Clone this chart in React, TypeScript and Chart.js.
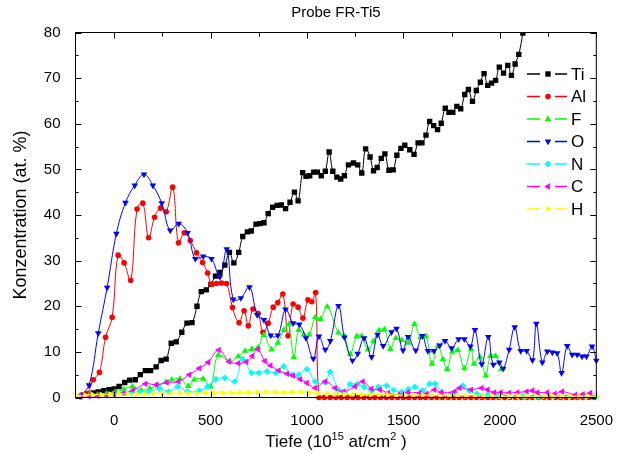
import React, { useEffect, useRef } from "react";
import { Chart, registerables } from "chart.js";
Chart.register(...registerables);

const FONT = '"Liberation Sans", Arial, Helvetica, sans-serif';

const titleText = "Probe FR-Ti5";
const yTitle = "Konzentration (at. %)";
const xTitleParts: [string, boolean][] = [["Tiefe (10", false], ["15", true], [" at/cm", false], ["2", true], [" )", false]];

const xTicks = [0, 500, 1000, 1500, 2000, 2500];
const yTicks = [0, 10, 20, 30, 40, 50, 60, 70, 80];

const tiX = [-165,-139,-108,-82,-53,-26,0,26,55,81,110,136,162,189,218,244,270,296,322,351,378,404,430,452,478,502,526,549,574,598,621,646,667,691,711,736,757,777,799,822,845,867,889,912,935,954,978,995,1014,1035,1054,1074,1095,1115,1134,1155,1175,1194,1215,1241,1263,1284,1304,1327,1345,1364,1385,1404,1425,1447,1466,1487,1507,1533,1555,1576,1596,1617,1636,1657,1677,1696,1717,1736,1756,1777,1797,1818,1837,1858,1878,1899,1918,1937,1957,1978,1997,2019,2041,2060,2079,2098,2119,2140];
const tiY = [0.5,0.7,1.0,1.2,1.5,1.7,1.9,2.4,3.3,3.8,3.9,5.0,5.9,5.9,6.7,8.1,8.4,11.9,12.2,14.3,16.3,16.4,20.0,23.2,23.6,24.8,26.6,27.4,29.0,31.8,29.5,31.8,35.3,36.3,36.5,38.0,38.1,38.3,40.3,41.7,42.1,42.2,41.4,42.8,45.0,43.1,49.3,48.5,48.6,49.4,49.4,48.6,49.6,53.8,49.6,48.3,47.9,48.6,51.0,51.4,51.0,49.2,54.5,52.7,49.7,50.4,52.4,53.4,49.8,49.9,53.1,54.6,55.3,54.3,53.3,55.8,55.8,57.5,60.5,59.6,58.7,60.1,63.4,62.5,62.5,63.8,63.3,66.4,67.5,64.9,67.3,69.1,71.0,68.4,68.9,69.5,72.4,71.1,72.8,70.6,73.1,75.2,79.9,86];

const alX = [-175,-140,-108,-76,-44,-10,21,52,86,119,149,179,210,241,270,304,334,364,395,428,459,485,505,530,557,583,614,648,674,696,720,747,772,799,825,849,875,902,928,954,979,1005,1025,1045,
  1062,1090,1120,1150,1178,1208,1238,1265,1295,1325,1352,1382,1412,1440,1470,1500,1528,1558,1588,1615,1645,1675,1702,1732,1762,1790,1820,1850,1878,1908,1938,1965,1995,2025,2052,2082,2112,2140,2170,2200,2228,2258,2288,2315,2345,2375,2402,2432,2462,2490];
const alY = [0.2,0.8,3.9,5.5,13.2,17.6,31.2,29.5,25.7,41.3,42.6,35.0,39.5,41.5,40.7,46.1,33.9,36.1,34.4,31.7,29.6,27.3,24.8,25.0,25.1,25.0,19.7,16.4,19.0,15.7,19.4,18.4,14.3,16.3,19.8,20.8,22.7,13.5,20.5,19.8,17.4,21.4,21.0,23.0,
  0,0,0,0,0,0,0,0,0,0,0,0,0,0,0,0,0,0,0,0,0,0,0,0,0,0,0,0,0,0,0,0,0,0,0,0,0,0,0,0,0,0,0,0,0,0,0,0,0,0];

const fX = [-175,-130,-85,-40,5,50,95,140,185,230,270,299,342,385,416,462,500,540,600,644,679,713,747,777,816,849,880,905,932,957,983,1012,1043,1070,1105,1163,1194,1224,1258,1284,1316,1344,1373,1402,1432,1461,1492,1526,1557,1588,1617,1648,1679,1705,1727,1753,1782,1816,1851,1866,1897,1927,1951,1978,2008];
const fY = [0.2,0.4,0.6,0.8,1.2,1.8,2.4,1.6,2.0,2.6,3.4,3.9,4.1,2.5,3.9,4.1,2.4,9.3,7.9,9.0,10.2,10.6,11.0,13.7,10.5,12.0,14.8,16.0,8.8,14.8,13.8,13.8,17.6,17.2,19.9,14.2,13.4,9.5,13.4,13.4,10.5,12.3,14.7,14.9,10.6,13.0,12.6,12.0,16.1,13.2,13.4,7.4,11.3,8.4,6.2,10.0,10.4,6.4,10.6,7.4,8.9,4.8,9.1,9.1,6.2];

const oX = [-175,-130,-82,-36,12,59,107,155,201,247,291,335,381,421,462,505,548,584,618,657,702,742,777,812,849,889,928,960,995,1033,1062,1095,1121,1163,1194,1236,1263,1296,1335,1366,1395,1438,1464,1498,1524,1564,1598,1627,1658,1688,1716,1750,1786,1816,1847,1871,1906,1940,1966,1997,2017,2048,2077,2108,2139,2169,2189,2220,2246,2272,2297,2320,2349,2375,2401,2426,2449,2478,2500];
const oY = [0.3,2.7,14.1,24.1,35.9,42.7,46.5,48.9,46.5,42.6,36.6,38.1,36.1,30.4,30.9,30.4,26.4,32.5,21.5,21.8,24.2,18.1,17.0,13.6,13.6,19.3,16.3,16.0,13.0,8.5,13.4,10.5,12.4,20.1,13.2,8.1,9.6,13.0,8.9,13.8,11.3,14.3,15.1,10.3,13.3,10.3,13.5,10.2,10.2,11.4,12.4,10.8,12.8,12.8,11.2,14.8,7.3,13.3,7.2,7.7,6.3,10.5,15.4,10.2,10.2,8.2,16.2,7.7,10.1,9.9,9.7,5.4,11.3,9.4,9.4,9.0,9.0,11.2,8.1];

const nX = [-175,-130,-85,-40,0,45,90,132,180,236,284,330,381,442,485,528,574,626,668,713,750,794,840,880,920,957,1000,1043,1095,1120,1163,1195,1224,1261,1296,1335,1370,1413,1450,1490,1525,1559,1600,1636,1665,1700,1740,1770,1808,1842,1880,1937,1990,2050,2120,2200,2280,2360,2440,2500];
const nY = [0.2,0.3,0.4,0.5,0.8,1.0,1.2,1.3,1.3,1.9,1.3,2.4,1.3,1.5,2.4,4.0,4.3,3.5,8.4,5.4,5.4,5.7,5.4,6.8,5.0,5.0,6.2,3.5,3.3,5.6,1.7,1.0,2.9,2.9,2.3,1.5,2.3,2.6,1.6,1.2,1.8,2.3,1.5,3.0,3.0,1.2,0.8,1.0,2.6,1.5,0.8,0.6,0.4,0.3,0.3,0.2,0.3,0.2,0.3,0.2];

const cX = [-175,-130,-85,-40,0,50,100,163,218,273,334,390,442,488,543,596,644,686,717,745,782,811,854,897,928,965,1000,1043,1095,1146,1189,1249,1289,1335,1378,1421,1473,1524,1584,1620,1661,1696,1765,1791,1851,1906,1937,1971,2005,2048,2091,2139,2169,2195,2246,2285,2323,2392,2430,2469];
const cY = [0.2,0.3,0.4,0.5,0.7,1.0,1.6,3.0,2.8,3.3,3.5,5.0,6.4,7.7,10.4,7.9,7.5,7.8,9.1,10.6,8.0,7.0,5.9,5.2,4.8,4.0,3.2,2.1,3.5,2.1,1.3,2.4,3.5,1.9,1.7,1.0,0.6,1.1,1.0,0.8,1.7,1.1,1.3,2.1,1.7,2.1,1.7,1.1,1.1,1.0,1.1,1.3,1.5,1.1,1.1,0.8,1.3,0.6,0.7,1.0];

const hX = [-190,-150,-110,-65,-20,25,70,115,160,205,250,295,340,385,430,475,520,565,610,655,700,745,790,835,880,925,970,1015,1060,1105,1150,1195,1240,1285,1330,1375,1420,1465,1510,1555,1600,1645,1690,1735,1780,1825,1870,1915,1960,2005,2050,2095,2140,2185,2230,2275,2320,2365,2410,2455,2500];
const hY = [0.3,0.5,0.6,0.6,0.7,0.8,0.8,0.8,0.8,0.9,0.9,0.9,0.9,0.9,0.9,1.0,1.0,1.0,1.0,1.1,1.1,1.2,1.2,1.2,1.1,1.2,1.2,1.1,0.9,0.8,0.8,0.7,0.7,0.6,0.6,0.6,0.6,0.5,0.5,0.5,0.5,0.5,0.4,0.4,0.4,0.4,0.4,0.4,0.4,0.3,0.3,0.3,0.3,0.3,0.3,0.3,0.3,0.3,0.3,0.3,0.3];

type S = { label: string; x: number[]; y: number[]; color: string; style: string; radius: number; rotation: number };
const SERIES: S[] = [
  { label: "Ti", x: tiX, y: tiY, color: "#000000", style: "rect", radius: 3.8, rotation: 0 },
  { label: "Al", x: alX, y: alY, color: "#ff0000", style: "circle", radius: 2.8, rotation: 0 },
  { label: "F", x: fX, y: fY, color: "#00ff00", style: "triangle", radius: 3.8, rotation: 0 },
  { label: "O", x: oX, y: oY, color: "#0000ff", style: "triangle", radius: 3.8, rotation: 180 },
  { label: "N", x: nX, y: nY, color: "#00ffff", style: "rectRot", radius: 3.4, rotation: 0 },
  { label: "C", x: cX, y: cY, color: "#ff00ff", style: "triangle", radius: 3.8, rotation: 270 },
  { label: "H", x: hX, y: hY, color: "#ffff00", style: "triangle", radius: 3.8, rotation: 90 },
];

function pts(xs: number[], ys: number[]) {
  const n = Math.min(xs.length, ys.length);
  const out: { x: number; y: number }[] = [];
  for (let i = 0; i < n; i++) out.push({ x: xs[i], y: ys[i] });
  return out;
}

function drawMarker(ctx: CanvasRenderingContext2D, style: string, x: number, y: number, r: number, rot: number, color: string) {
  ctx.save();
  ctx.fillStyle = color;
  ctx.beginPath();
  if (style === "circle") ctx.arc(x, y, r, 0, Math.PI * 2);
  else if (style === "rect") { const s = r * Math.SQRT1_2; ctx.rect(x - s, y - s, 2 * s, 2 * s); }
  else if (style === "rectRot") { ctx.moveTo(x, y - r); ctx.lineTo(x + r, y); ctx.lineTo(x, y + r); ctx.lineTo(x - r, y); ctx.closePath(); }
  else {
    let a = (rot * Math.PI) / 180;
    ctx.moveTo(x + Math.sin(a) * r, y - Math.cos(a) * r);
    a += (2 * Math.PI) / 3;
    ctx.lineTo(x + Math.sin(a) * r, y - Math.cos(a) * r);
    a += (2 * Math.PI) / 3;
    ctx.lineTo(x + Math.sin(a) * r, y - Math.cos(a) * r);
    ctx.closePath();
  }
  ctx.fill();
  ctx.restore();
}

const overlay = {
  id: "overlay",
  afterDraw(chart: any) {
    const { ctx, chartArea: a, scales } = chart;
    const xs = scales.x, ys = scales.y;
    ctx.save();
    ctx.strokeStyle = "#000";
    ctx.lineWidth = 1;
    ctx.strokeRect(a.left, a.top, a.right - a.left, a.bottom - a.top);
    ctx.beginPath();
    const xt = (v: number, len: number) => {
      const p = Math.round(xs.getPixelForValue(v)) + 0.5;
      ctx.moveTo(p, a.bottom); ctx.lineTo(p, a.bottom - len);
      ctx.moveTo(p, a.top); ctx.lineTo(p, a.top + len);
    };
    const yt = (v: number, len: number) => {
      const p = Math.round(ys.getPixelForValue(v)) + 0.5;
      ctx.moveTo(a.left, p); ctx.lineTo(a.left + len, p);
      ctx.moveTo(a.right, p); ctx.lineTo(a.right - len, p);
    };
    xTicks.forEach((v) => xt(v, 6));
    for (let i = 0; i < xTicks.length - 1; i++) xt((xTicks[i] + xTicks[i + 1]) / 2, 4);
    yTicks.forEach((v) => yt(v, 6));
    for (let i = 0; i < yTicks.length - 1; i++) yt((yTicks[i] + yTicks[i + 1]) / 2, 3);
    ctx.stroke();

    ctx.fillStyle = "#000";
    ctx.font = `15px ${FONT}`;
    ctx.textAlign = "center";
    ctx.textBaseline = "middle";
    ctx.fillText(titleText, (a.left + a.right) / 2, 13);

    ctx.save();
    ctx.translate(21, (a.top + a.bottom) / 2);
    ctx.rotate(-Math.PI / 2);
    ctx.font = `18px ${FONT}`;
    ctx.textAlign = "center";
    ctx.textBaseline = "middle";
    ctx.fillText(yTitle, 0, 0);
    ctx.restore();

    const big = `17px ${FONT}`, small = `11px ${FONT}`;
    let total = 0;
    xTitleParts.forEach(([t, sup]) => { ctx.font = sup ? small : big; total += ctx.measureText(t).width; });
    let cx = (a.left + a.right) / 2 - total / 2;
    ctx.textAlign = "left";
    ctx.textBaseline = "alphabetic";
    xTitleParts.forEach(([t, sup]) => {
      ctx.font = sup ? small : big;
      ctx.fillText(t, cx, sup ? 440 : 447);
      cx += ctx.measureText(t).width;
    });

    ctx.font = `17px ${FONT}`;
    ctx.textBaseline = "middle";
    ctx.textAlign = "left";
    SERIES.forEach((s, i) => {
      const ry = 74 + i * 22.5;
      ctx.strokeStyle = s.color;
      ctx.lineWidth = 1.5;
      ctx.beginPath();
      ctx.moveTo(527, ry); ctx.lineTo(540, ry);
      ctx.moveTo(555, ry); ctx.lineTo(567, ry);
      ctx.stroke();
      drawMarker(ctx, s.style, 548, ry, s.radius, s.rotation, s.color);
      ctx.fillStyle = "#000";
      ctx.fillText(s.label, 571, ry + 1);
    });
    ctx.restore();
  },
};

export default function App() {
  const ref = useRef<HTMLCanvasElement>(null);
  useEffect(() => {
    const canvas = ref.current!;
    const n = SERIES.length;
    const chart = new Chart(canvas, {
      type: "line",
      data: {
        datasets: SERIES.map((s, i) => ({
          label: s.label,
          data: pts(s.x, s.y),
          borderColor: s.color,
          backgroundColor: s.color,
          borderWidth: 1,
          pointStyle: s.style as any,
          pointRadius: s.radius,
          pointRotation: s.rotation,
          pointBorderWidth: 0,
          pointBackgroundColor: s.color,
          tension: 0.4,
          cubicInterpolationMode: "default",
          fill: false,
          order: n - 1 - i,
          clip: i === 0 ? ({ left: 5, right: 5, top: 0, bottom: 5 } as any) : 5,
        })),
      },
      options: {
        responsive: false,
        animation: false,
        events: [],
        layout: { padding: { top: 32.5, right: 19.5, left: 0, bottom: 0 } },
        plugins: { legend: { display: false }, tooltip: { enabled: false }, title: { display: false } },
        scales: {
          x: {
            type: "linear",
            min: -200,
            max: 2500,
            grid: { display: false },
            border: { display: false },
            ticks: { color: "#000", font: { family: FONT, size: 15 }, padding: 6, maxRotation: 0, autoSkip: false, callback: (v: any) => String(v) },
            afterBuildTicks: (s: any) => { s.ticks = xTicks.map((v) => ({ value: v })); },
            afterFit: (s: any) => { s.height = 56.5; },
          },
          y: {
            type: "linear",
            min: 0,
            max: 80,
            grid: { display: false },
            border: { display: false },
            ticks: { color: "#000", font: { family: FONT, size: 15 }, padding: 7, autoSkip: false, callback: (v: any) => String(v) },
            afterBuildTicks: (s: any) => { s.ticks = yTicks.map((v) => ({ value: v })); },
            afterFit: (s: any) => { s.width = 75.5; },
          },
        },
      },
      plugins: [overlay],
    });
    return () => chart.destroy();
  }, []);
  return (
    <div style={{ position: "absolute", left: 0, top: 0, width: 619, height: 454 }}>
      <canvas ref={ref} width={619} height={454} style={{ display: "block" }} />
    </div>
  );
}
